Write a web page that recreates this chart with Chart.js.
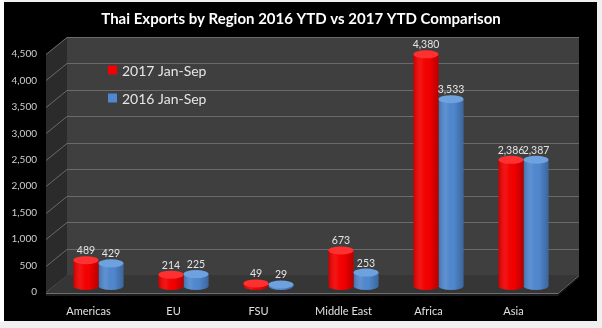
<!DOCTYPE html>
<html>
<head>
<meta charset="utf-8">
<script src="https://cdn.jsdelivr.net/npm/chart.js@4.4.1/dist/chart.umd.min.js"></script>
<style>
  html, body { margin: 0; padding: 0; background: #f0f0f0; }
  #c { display: block; }
</style>
</head>
<body>
<canvas id="c" width="602" height="328"></canvas>
<script>
const regions = ['Americas', 'EU', 'FSU', 'Middle East', 'Africa', 'Asia'];
const exports2017 = [489, 214, 49, 673, 4380, 2386];
const exports2016 = [429, 225, 29, 253, 3533, 2387];
const seriesNames = ['2017 Jan-Sep', '2016 Jan-Sep'];
const yMax = 4500;
const yStep = 500;

const seriesColors = ['#f50000', '#5088cf'];
const capColors = ['#ff3030', '#6ea1df'];

// fake 3D depth (px)
const DX = 21, DY = 17, FRONT = 6;
const RY = 4;

function poly(ctx, pts, fill) {
  ctx.beginPath();
  ctx.moveTo(pts[0][0], pts[0][1]);
  for (let i = 1; i < pts.length; i++) ctx.lineTo(pts[i][0], pts[i][1]);
  ctx.closePath();
  ctx.fillStyle = fill;
  ctx.fill();
}

const scene3d = {
  id: 'scene3d',
  beforeDraw(chart) {
    const { ctx, chartArea: ca, scales: { y } } = chart;
    ctx.save();
    ctx.fillStyle = '#f0f0f0';
    ctx.fillRect(0, 0, chart.width, chart.height);
    ctx.fillStyle = '#ffffff';
    ctx.fillRect(0, 0, 4, 322);
    ctx.fillStyle = '#000000';
    ctx.fillRect(4, 2, 593, 319);

    const fl = ca.left - 10, bl = fl + DX, br = ca.right + 13, fr = br - DX;
    const top = y.getPixelForValue(yMax), y0 = y.getPixelForValue(0);
    const back = DY - FRONT; // back plane offset

    // back wall
    ctx.fillStyle = '#3f3f3f';
    ctx.fillRect(bl, top - back, br - bl, y0 - top);
    // left side wall
    poly(ctx, [[fl, top + FRONT], [bl, top - back], [bl, y0 - back], [fl, y0 + FRONT]], '#2b2b2b');

    // gridlines
    ctx.strokeStyle = '#6a6a6a';
    ctx.lineWidth = 1;
    for (let v = 0; v <= yMax; v += yStep) {
      const yy = Math.round(y.getPixelForValue(v)) + 0.5;
      ctx.beginPath();
      ctx.moveTo(fl, yy + FRONT);
      ctx.lineTo(bl, yy - back);
      ctx.lineTo(br, yy - back);
      ctx.stroke();
    }

    // floor
    const ff = y0 + FRONT + 1, fb = y0 - back;
    poly(ctx, [[fl, ff], [fr, ff], [br, fb], [bl, fb]], '#363636');
    poly(ctx, [[fl, ff], [fr, ff], [fr, ff + 3], [fl, ff + 3]], '#1c1c1c');
    poly(ctx, [[fr, ff], [br, fb], [br, fb + 3], [fr, ff + 3]], '#141414');
    ctx.strokeStyle = '#6e6e6e';
    ctx.beginPath();
    ctx.moveTo(fl, ff + 0.5);
    ctx.lineTo(fr, ff + 0.5);
    ctx.lineTo(br, fb + 0.5);
    ctx.stroke();
    ctx.restore();
  },
  afterDatasetsDraw(chart) {
    const { ctx, chartArea: ca } = chart;
    ctx.save();
    const labels = [];
    chart.data.datasets.forEach((ds, di) => {
      const meta = chart.getDatasetMeta(di);
      meta.data.forEach((el, i) => {
        const { x, y, base, width } = el.getProps(['x', 'y', 'base', 'width'], true);
        const rx = width / 2;
        const shade = ctx.createLinearGradient(x - rx, 0, x + rx, 0);
        shade.addColorStop(0, 'rgba(0,0,0,0.18)');
        shade.addColorStop(0.3, 'rgba(255,255,255,0.08)');
        shade.addColorStop(0.6, 'rgba(0,0,0,0)');
        shade.addColorStop(1, 'rgba(0,0,0,0.25)');

        // bottom half ellipse
        ctx.beginPath();
        ctx.ellipse(x, base, rx, RY, 0, 0, Math.PI);
        ctx.fillStyle = seriesColors[di];
        ctx.fill();
        ctx.fillStyle = shade;
        ctx.fill();
        // body shading
        ctx.fillStyle = shade;
        ctx.fillRect(x - rx, y, width, base - y);
        // top cap
        ctx.beginPath();
        ctx.ellipse(x, y, rx, RY, 0, 0, Math.PI * 2);
        ctx.fillStyle = capColors[di];
        ctx.fill();

        labels.push([ds.data[i].toLocaleString('en-US'), x, y - RY - 2]);
      });
    });

    ctx.font = '10.5px Lato';
    ctx.fillStyle = '#e4e4e4';
    ctx.textAlign = 'center';
    ctx.textBaseline = 'alphabetic';
    labels.forEach(([t, x, yy]) => ctx.fillText(t, x, yy));

    // legend inside the plot
    ctx.font = '14px Lato';
    ctx.textAlign = 'left';
    ctx.textBaseline = 'middle';
    chart.data.datasets.forEach((ds, di) => {
      const lx = ca.left + 52, ly = ca.top + 22 + di * 28;
      ctx.fillStyle = seriesColors[di];
      ctx.fillRect(lx, ly - 4.5, 9, 9);
      ctx.fillStyle = '#e6e6e6';
      ctx.fillText(ds.label, lx + 14, ly + 1);
    });
    ctx.restore();
  }
};

new Chart(document.getElementById('c'), {
  type: 'bar',
  data: {
    labels: regions,
    datasets: [
      { label: seriesNames[0], data: exports2017, backgroundColor: seriesColors[0], borderWidth: 0 },
      { label: seriesNames[1], data: exports2016, backgroundColor: seriesColors[1], borderWidth: 0 }
    ]
  },
  options: {
    responsive: false,
    animation: false,
    layout: { padding: { left: 0, right: 0, top: 0, bottom: 13 } },
    datasets: { bar: { categoryPercentage: 50 / 85, barPercentage: 1 } },
    plugins: {
      legend: { display: false },
      tooltip: { enabled: false },
      title: {
        display: true,
        text: 'Thai Exports by Region 2016 YTD vs 2017 YTD Comparison',
        color: '#ffffff',
        font: { family: 'Lato', size: 15, weight: 'bold' },
        padding: { top: 10, bottom: 20 }
      }
    },
    scales: {
      x: {
        grid: { display: false, drawTicks: false },
        border: { display: false },
        ticks: {
          color: '#e0e0e0',
          font: { family: 'Lato', size: 11 },
          padding: 19,
          labelOffset: -10,
          autoSkip: false,
          maxRotation: 0
        },
        afterFit: s => { s.height = 29; }
      },
      y: {
        min: 0,
        max: yMax,
        grid: { display: false, drawTicks: false },
        border: { display: false },
        ticks: {
          stepSize: yStep,
          color: '#cfcfcf',
          font: { family: 'Lato', size: 10 },
          padding: 19,
          labelOffset: 6,
          callback: v => v.toLocaleString('en-US')
        },
        afterFit: s => { s.width = 56; }
      },
      // empty right-hand axis, only reserves the margin right of the floor
      yRight: {
        position: 'right',
        min: 0,
        max: yMax,
        grid: { display: false, drawTicks: false },
        border: { display: false },
        ticks: { display: false },
        afterFit: s => { s.width = 36; }
      }
    }
  },
  plugins: [scene3d]
});
</script>
</body>
</html>
